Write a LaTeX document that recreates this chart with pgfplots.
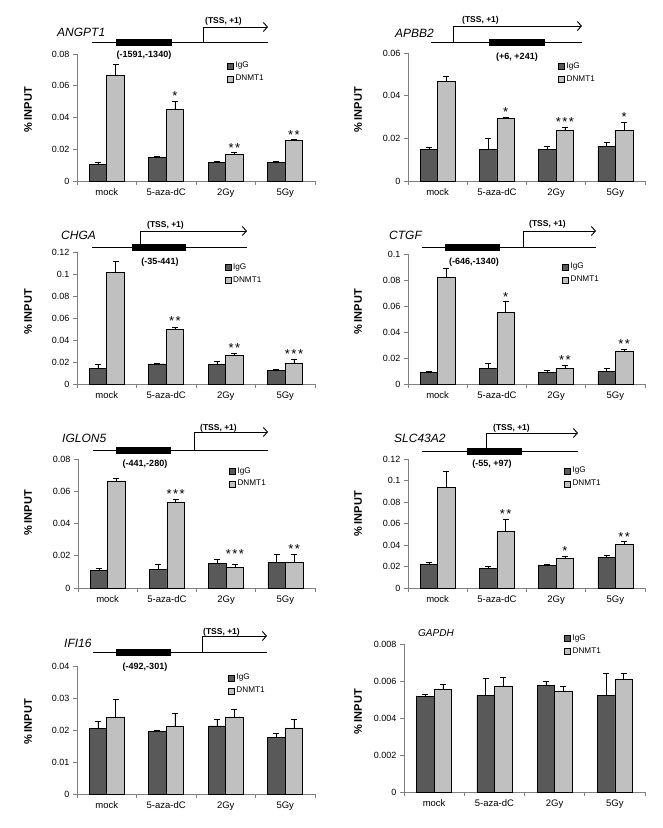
\documentclass[border=0pt]{standalone}
\usepackage{fontspec}
\setmainfont{Liberation Sans}
\usepackage{pgfplots}
\pgfplotsset{compat=1.18}
\usetikzlibrary{arrows.meta}
\definecolor{igg}{HTML}{595959}
\definecolor{dn}{HTML}{C0C0C0}
\definecolor{axc}{HTML}{808080}
\newcommand\fs[1]{\fontsize{#1}{#1}\selectfont}
\pgfplotsset{
 chip/.style={
  scale only axis, width=238pt, anchor=south west, clip=false,
  ybar=0pt, bar width=17.5pt,
  xmin=-0.5, xmax=3.5, ymin=0,
  xtick={0,1,2,3}, xticklabels={mock,5-aza-dC,2Gy,5Gy},
  minor xtick={-0.5,0.5,1.5,2.5,3.5},
  major x tick style={draw=none},
  tick style={axc, line width=0.6pt},
  major tick length=4pt, minor tick length=4pt,
  tick align=outside,
  axis x line*=bottom, axis y line*=left,
  axis line style={axc, line width=0.6pt},
  scaled y ticks=false,
  /pgf/number format/assume math mode=true,
  yticklabel={\pgfmathprintnumber[fixed,precision=3]{\tick}},
  yticklabel style={font=\fs{9}},
  xticklabel style={font=\fs{9.5}},
  legend style={draw=none, fill=none, anchor=north west, font=\fs{8.2}, inner sep=0pt, row sep=1.8pt, cells={anchor=west}},
  error bars/y dir=plus, error bars/y explicit,
  error bars/error mark=-,
  error bars/error bar style={black, line width=0.6pt},
  error bars/error mark options={black, mark size=3pt, line width=0.6pt, rotate=90},
 },
 iggb/.style={fill=igg, draw=black, line width=0.5pt, legend image code/.code={\draw[##1, line width=0.4pt] (0pt,-3pt) rectangle (6pt,3pt);}},
 dnb/.style={fill=dn, draw=black, line width=0.5pt, legend image code/.code={\draw[##1, line width=0.4pt] (0pt,-3pt) rectangle (6pt,3pt);}},
}
\tikzset{sigstar/.style={font=\fs{13}, inner sep=0pt, anchor=south, xshift=8.75pt, yshift=0.5pt}}
\newcommand\sig[3]{\node[sigstar] at (axis cs:#1,#2) {#3};}
\newcommand\stwo{*\kern1.5pt*}
\newcommand\sthree{*\kern1.5pt*\kern1.5pt*}
\begin{document}
\begin{tikzpicture}
\path (0,0) rectangle (663pt,-828pt);
% ---------- ANGPT1
\begin{axis}[chip, at={(77pt,-181pt)}, height=127pt, ymax=0.08, ytick={0,0.02,0.04,0.06,0.08},
  legend style={at={(0.63,0.953)}}]
\addplot[iggb] coordinates {(0,0.0105)+-(0,0.001) (1,0.0151)+-(0,0.0005) (2,0.0117)+-(0,0.0005) (3,0.0117)+-(0,0.0005)};
\addplot[dnb] coordinates {(0,0.0664)+-(0,0.0069) (1,0.045)+-(0,0.0055) (2,0.0168)+-(0,0.001) (3,0.0255)+-(0,0.0005)};
\legend{IgG,DNMT1}
\sig{1}{0.0505}{*}\sig{2}{0.0178}{\stwo}\sig{3}{0.026}{\stwo}
\end{axis}
% ---------- APBB2
\begin{axis}[chip, at={(408pt,-181pt)}, width=237pt, height=128pt, ymax=0.06, ytick={0,0.02,0.04,0.06},
  legend style={at={(0.633,0.94)}}]
\addplot[iggb] coordinates {(0,0.0149)+-(0,0.001) (1,0.0149)+-(0,0.0053) (2,0.0149)+-(0,0.0013) (3,0.0163)+-(0,0.0017)};
\addplot[dnb] coordinates {(0,0.0468)+-(0,0.0022) (1,0.0295)+-(0,0.0003) (2,0.0237)+-(0,0.0014) (3,0.0237)+-(0,0.0037)};
\legend{IgG,DNMT1}
\sig{1}{0.0298}{*}\sig{2}{0.0251}{\sthree}\sig{3}{0.0274}{*}
\end{axis}
% ---------- CHGA
\begin{axis}[chip, at={(77pt,-384pt)}, height=132pt, ymax=0.12, ytick={0,0.02,0.04,0.06,0.08,0.1,0.12},
  legend style={at={(0.62,0.93)}}]
\addplot[iggb] coordinates {(0,0.0145)+-(0,0.0037) (1,0.0182)+-(0,0.001) (2,0.0176)+-(0,0.0033) (3,0.0121)+-(0,0.0015)};
\addplot[dnb] coordinates {(0,0.1018)+-(0,0.0097) (1,0.05)+-(0,0.002) (2,0.0258)+-(0,0.0018) (3,0.0191)+-(0,0.0033)};
\legend{IgG,DNMT1}
\sig{1}{0.0521}{\stwo}\sig{2}{0.0276}{\stwo}\sig{3}{0.0224}{\sthree}
\end{axis}
% ---------- CTGF
\begin{axis}[chip, at={(408pt,-384pt)}, width=237pt, height=130pt, ymax=0.1, ytick={0,0.02,0.04,0.06,0.08,0.1},
  legend style={at={(0.65,0.946)}}]
\addplot[iggb] coordinates {(0,0.0087)+-(0,0.001) (1,0.0123)+-(0,0.0039) (2,0.0092)+-(0,0.0013) (3,0.01)+-(0,0.002)};
\addplot[dnb] coordinates {(0,0.0823)+-(0,0.007) (1,0.0549)+-(0,0.0085) (2,0.0123)+-(0,0.002) (3,0.0254)+-(0,0.0015)};
\legend{IgG,DNMT1}
\sig{1}{0.0633}{*}\sig{2}{0.0144}{\stwo}\sig{3}{0.0269}{\stwo}
\end{axis}
% ---------- IGLON5
\begin{axis}[chip, at={(78pt,-588pt)}, width=237pt, height=129pt, ymax=0.08, ytick={0,0.02,0.04,0.06,0.08},
  legend style={at={(0.637,0.953)}}]
\addplot[iggb] coordinates {(0,0.0108)+-(0,0.0016) (1,0.0114)+-(0,0.0031) (2,0.0151)+-(0,0.0029) (3,0.0158)+-(0,0.0053)};
\addplot[dnb] coordinates {(0,0.0665)+-(0,0.0017) (1,0.0531)+-(0,0.002) (2,0.0126)+-(0,0.0023) (3,0.0158)+-(0,0.0053)};
\legend{IgG,DNMT1}
\sig{1}{0.0551}{\sthree}\sig{2}{0.018}{\sthree}\sig{3}{0.0211}{\stwo}
\end{axis}
% ---------- SLC43A2
\begin{axis}[chip, at={(408pt,-588pt)}, width=237pt, height=129pt, ymax=0.12, ytick={0,0.02,0.04,0.06,0.08,0.1,0.12},
  legend style={at={(0.658,0.953)}}]
\addplot[iggb] coordinates {(0,0.0221)+-(0,0.0016) (1,0.0181)+-(0,0.0018) (2,0.0209)+-(0,0.0009) (3,0.0284)+-(0,0.0021)};
\addplot[dnb] coordinates {(0,0.0938)+-(0,0.0147) (1,0.0527)+-(0,0.0112) (2,0.0274)+-(0,0.0019) (3,0.0405)+-(0,0.0025)};
\legend{IgG,DNMT1}
\sig{1}{0.0639}{\stwo}\sig{2}{0.0293}{*}\sig{3}{0.043}{\stwo}
\end{axis}
% ---------- IFI16
\begin{axis}[chip, at={(77pt,-794pt)}, height=128pt, ymax=0.04, ytick={0,0.01,0.02,0.03,0.04},
  legend style={at={(0.634,0.953)}}]
\addplot[iggb] coordinates {(0,0.0205)+-(0,0.0021) (1,0.0195)+-(0,0.0003) (2,0.0213)+-(0,0.0022) (3,0.0177)+-(0,0.0012)};
\addplot[dnb] coordinates {(0,0.0239)+-(0,0.0058) (1,0.0211)+-(0,0.0041) (2,0.0241)+-(0,0.0025) (3,0.0207)+-(0,0.0025)};
\legend{IgG,DNMT1}
\end{axis}
% ---------- GAPDH
\begin{axis}[chip, at={(404pt,-792pt)}, width=241pt, height=148pt, ymax=0.008, ytick={0,0.002,0.004,0.006,0.008},
  legend style={at={(0.664,1.08)}}]
\addplot[iggb] coordinates {(0,0.00516)+-(0,0.00011) (1,0.00524)+-(0,0.0009) (2,0.00576)+-(0,0.00025) (3,0.00524)+-(0,0.0012)};
\addplot[dnb] coordinates {(0,0.00558)+-(0,0.00023) (1,0.00574)+-(0,0.00045) (2,0.00547)+-(0,0.00022) (3,0.00607)+-(0,0.00036)};
\legend{IgG,DNMT1}
\end{axis}
% ---------- gene diagrams and labels
\begin{scope}[x=1pt,y=-1pt]
\tikzset{gl/.style={line width=0.9pt}, ar/.style={line width=0.9pt, -{Straight Barb[length=4pt,width=9pt,line width=0.9pt]}},
 gname/.style={font=\fs{12}\itshape, anchor=west, inner sep=0pt},
 tss/.style={font=\fs{8.5}\bfseries, anchor=west, inner sep=0pt},
 reg/.style={font=\fs{9}\bfseries, inner sep=0pt},
 yl/.style={font=\fs{11}\bfseries, rotate=90, inner sep=0pt}}
% ANGPT1
\draw[gl] (92,42)--(268,42); \fill (116,38.5) rectangle (172,45.5);
\draw[ar] (203,42)--(203,27)--(268,27);
\node[tss] at (205,21) {(TSS, +1)}; \node[gname] at (57,32) {ANGPT1}; \node[reg] at (144,55) {(-1591,-1340)};
\node[yl] at (28,110) {\% INPUT};
% APBB2
\draw[gl] (431,42)--(582,42); \fill (489,38.5) rectangle (545,45.5);
\draw[ar] (453,42)--(453,26)--(582,26);
\node[tss] at (462,20) {(TSS, +1)}; \node[gname] at (395,33) {APBB2}; \node[reg] at (517,57) {(+6, +241)};
\node[yl] at (358,110) {\% INPUT};
% CHGA
\draw[gl] (92,247)--(247,247); \fill (132,243.5) rectangle (186,250.5);
\draw[ar] (140,247)--(140,231)--(247,231);
\node[tss] at (147,225) {(TSS, +1)}; \node[gname] at (61,235) {CHGA}; \node[reg] at (160,262) {(-35-441)};
\node[yl] at (28,312) {\% INPUT};
% CTGF
\draw[gl] (422,247)--(596,247); \fill (445,243.5) rectangle (500,250.5);
\draw[ar] (523,247)--(523,231)--(596,231);
\node[tss] at (529,224) {(TSS, +1)}; \node[gname] at (389,235) {CTGF}; \node[reg] at (474,262) {(-646,-1340)};
\node[yl] at (358,312) {\% INPUT};
% IGLON5
\draw[gl] (93,450)--(268,450); \fill (116,446.5) rectangle (171,453.5);
\draw[ar] (194,450)--(194,432)--(268,432);
\node[tss] at (200,428) {(TSS, +1)}; \node[gname] at (62,438) {IGLON5}; \node[reg] at (145,464) {(-441,-280)};
\node[yl] at (28,513) {\% INPUT};
% SLC43A2
\draw[gl] (422,451)--(578,451); \fill (467,447.5) rectangle (522,454.5);
\draw[ar] (486,451)--(486,433)--(578,433);
\node[tss] at (493,428) {(TSS, +1)}; \node[gname] at (394,438) {SLC43A2}; \node[reg] at (492,464) {(-55, +97)};
\node[yl] at (358,514) {\% INPUT};
% IFI16
\draw[gl] (93,652)--(267,652); \fill (116,648.5) rectangle (171,655.5);
\draw[ar] (202,652)--(202,636)--(267,636);
\node[tss] at (203,632) {(TSS, +1)}; \node[gname] at (64,643) {IFI16}; \node[reg] at (145,667) {(-492,-301)};
\node[yl] at (28,722) {\% INPUT};
% GAPDH
\node[gname, font=\fs{10}\itshape] at (418,633) {GAPDH};
\node[yl] at (358,712) {\% INPUT};
\end{scope}
\end{tikzpicture}
\end{document}
